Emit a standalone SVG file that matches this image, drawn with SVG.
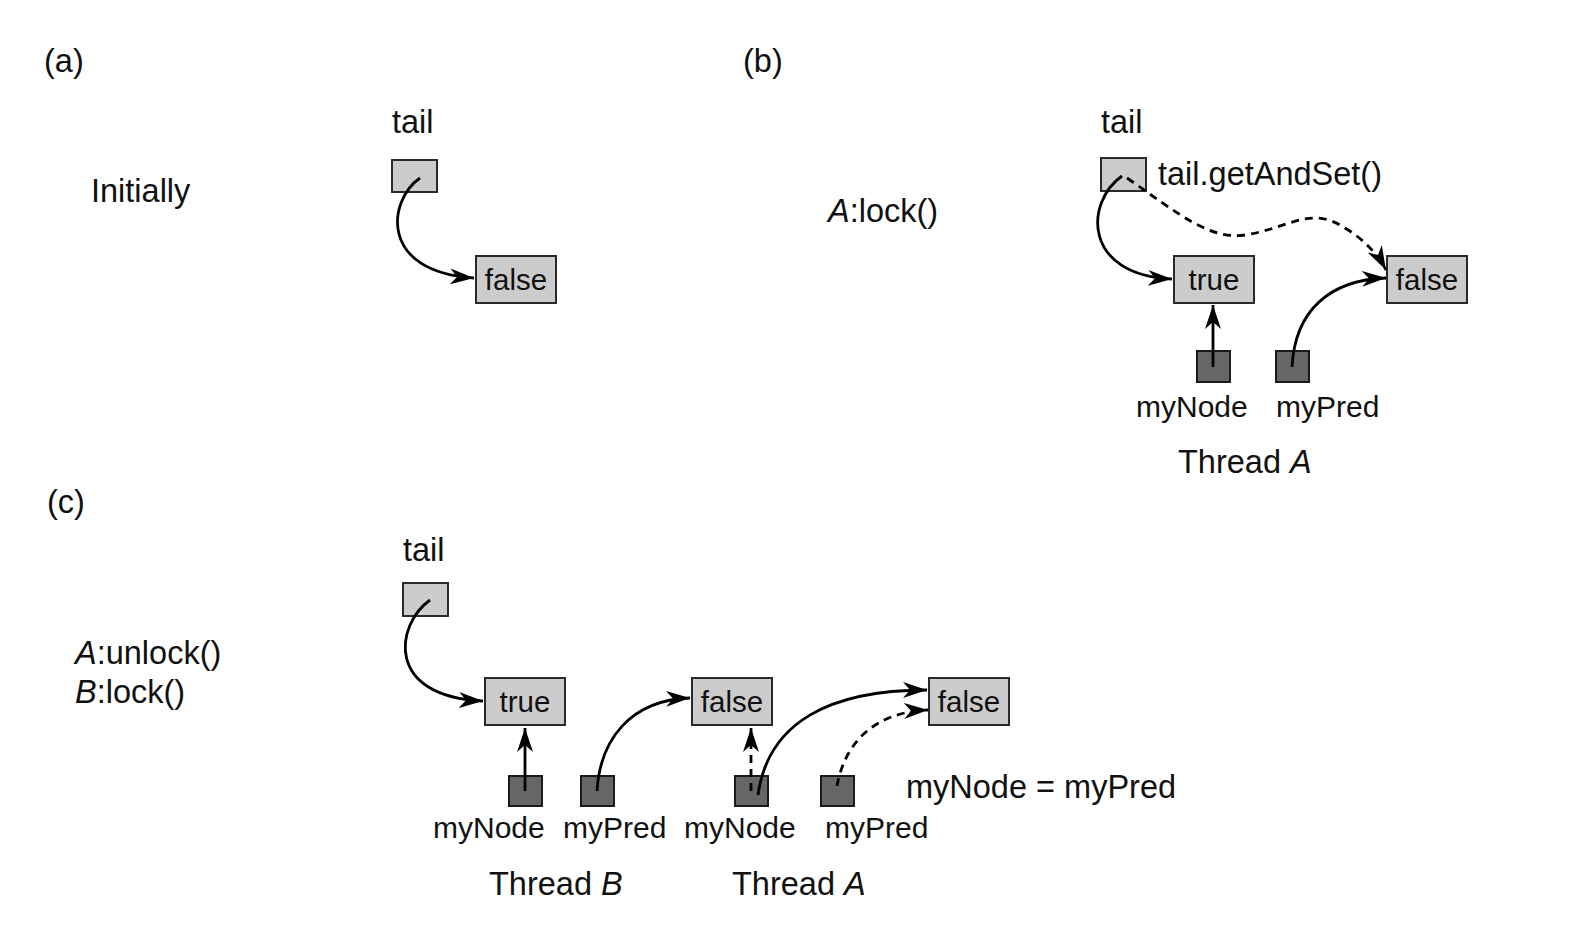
<svg xmlns="http://www.w3.org/2000/svg" width="1575" height="936" viewBox="0 0 1575 936">
<defs>
<marker id="ah" markerUnits="userSpaceOnUse" markerWidth="26" markerHeight="18" refX="24" refY="8" orient="auto" viewBox="0 0 26 16">
<path d="M0,0 L24,8 L0,16 L7,8 z" fill="#000"/>
</marker>
</defs>
<style>
text{font-family:"Liberation Sans",Arial,sans-serif;fill:#111}
.big{font-size:32.5px}
.lbl{font-size:30px}
.val{font-size:29.5px;text-anchor:middle}
.cell{fill:#cccccc;stroke:#2a2a2a;stroke-width:2}
.ptr{fill:#666666;stroke:#1a1a1a;stroke-width:2}
.arr{fill:none;stroke:#000;stroke-width:2.8;marker-end:url(#ah)}
.dash{stroke-dasharray:8 6}
</style>
<rect width="1575" height="936" fill="#fff"/>
<g id="labels">
<text class="big" x="44" y="72">(a)</text>
<text class="big" x="743" y="72">(b)</text>
<text class="big" x="47" y="513">(c)</text>
<text class="big" x="91" y="202">Initially</text>
<text class="big" x="828" y="222"><tspan font-style="italic">A</tspan>:lock()</text>
<text class="big" x="75" y="664"><tspan font-style="italic">A</tspan>:unlock()</text>
<text class="big" x="75" y="703"><tspan font-style="italic">B</tspan>:lock()</text>
<text class="big" x="1158" y="185">tail.getAndSet()</text>
<text class="big" x="906" y="798" xml:space="preserve">myNode = myPred</text>
</g>
<g id="a-tail"><text class="big" x="392" y="133">tail</text><rect class="cell" x="392" y="160" width="45" height="32"/></g>
<g id="a-false"><rect class="cell" x="476" y="256" width="80" height="47"/><text class="val" x="516" y="290">false</text></g>
<g id="b-tail"><text class="big" x="1101" y="133">tail</text><rect class="cell" x="1101" y="158" width="45" height="33"/></g>
<g id="b-true"><rect class="cell" x="1174" y="256" width="80" height="47"/><text class="val" x="1214" y="290">true</text></g>
<g id="b-false"><rect class="cell" x="1387" y="256" width="80" height="47"/><text class="val" x="1427" y="290">false</text></g>
<g id="b-mynode"><rect class="ptr" x="1197" y="351" width="33" height="31"/><text class="lbl" x="1136" y="417">myNode</text></g>
<g id="b-mypred"><rect class="ptr" x="1276" y="351" width="33" height="31"/><text class="lbl" x="1276" y="417">myPred</text></g>
<g id="b-thread"><text class="big" x="1178" y="473">Thread <tspan font-style="italic">A</tspan></text></g>
<g id="c-tail"><text class="big" x="403" y="561">tail</text><rect class="cell" x="403" y="583" width="45" height="33"/></g>
<g id="c-true"><rect class="cell" x="485" y="678" width="80" height="47"/><text class="val" x="525" y="712">true</text></g>
<g id="c-false1"><rect class="cell" x="692" y="678" width="80" height="47"/><text class="val" x="732" y="712">false</text></g>
<g id="c-false2"><rect class="cell" x="929" y="678" width="80" height="47"/><text class="val" x="969" y="712">false</text></g>
<g id="c-b-mynode"><rect class="ptr" x="509" y="776" width="33" height="30"/><text class="lbl" x="433" y="838">myNode</text></g>
<g id="c-b-mypred"><rect class="ptr" x="581" y="776" width="33" height="30"/><text class="lbl" x="563" y="838">myPred</text></g>
<g id="c-a-mynode"><rect class="ptr" x="735" y="776" width="33" height="30"/><text class="lbl" x="684" y="838">myNode</text></g>
<g id="c-a-mypred"><rect class="ptr" x="821" y="776" width="33" height="30"/><text class="lbl" x="825" y="838">myPred</text></g>
<g id="c-threads"><text class="big" x="489" y="895">Thread <tspan font-style="italic">B</tspan></text><text class="big" x="732" y="895">Thread <tspan font-style="italic">A</tspan></text></g>
<g id="connectors">
<path class="arr" d="M420,178 C388,200 378,272 474,278"/>
<path class="arr" d="M1122,176 C1085,202 1082,275 1172,279"/>
<path class="arr dash" d="M1127,178 C1180,215 1210,240 1245,235 C1290,228 1310,205 1345,228 C1365,240 1378,255 1386,270"/>
<path class="arr" d="M1213,367 L1213,305"/>
<path class="arr" d="M1292,367 C1295,310 1330,280 1386,278"/>
<path class="arr" d="M430,600 C395,625 385,697 483,701"/>
<path class="arr" d="M525,791 L525,728"/>
<path class="arr" d="M597,791 C600,740 630,700 690,698"/>
<path class="arr dash" d="M751,791 L751,728"/>
<path class="arr" d="M758,795 C768,722 830,690 927,690"/>
<path class="arr dash" d="M837,786 C845,742 875,712 928,710"/>
</g>
</svg>
